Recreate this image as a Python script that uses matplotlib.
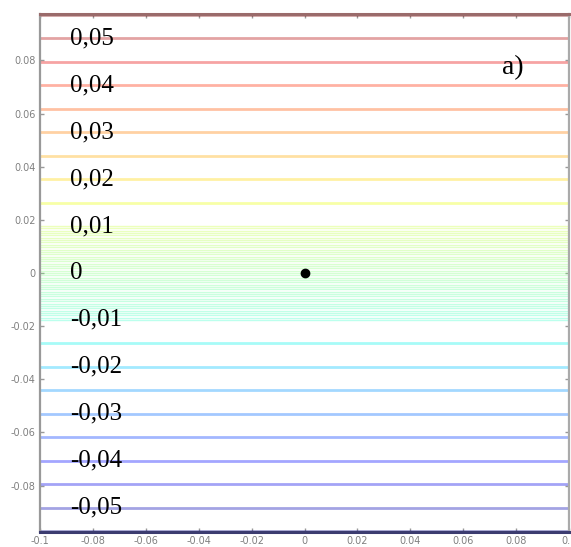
import numpy as np
import matplotlib
matplotlib.use("Agg")
import matplotlib.pyplot as plt

# contour values of the potential (coarse outside, fine band around zero)
coarse_levels = [-0.055, -0.05, -0.045, -0.04, -0.035, -0.03, -0.025, -0.02, -0.015,
                 0.015, 0.02, 0.025, 0.03, 0.035, 0.04, 0.045, 0.05, 0.055]
fine_levels = np.arange(-0.01, 0.01001, 0.0005)
field_slope = 0.566  # potential per unit y

label_values = [0.05, 0.04, 0.03, 0.02, 0.01, 0.0, -0.01, -0.02, -0.03, -0.04, -0.05]
label_texts = ["0,05", "0,04", "0,03", "0,02", "0,01", "0",
               "-0,01", "-0,02", "-0,03", "-0,04", "-0,05"]

x_ticks = [-0.1, -0.08, -0.06, -0.04, -0.02, 0, 0.02, 0.04, 0.06, 0.08, 0.1]
x_tick_labels = ["-0.1", "-0.08", "-0.06", "-0.04", "-0.02", "0",
                 "0.02", "0.04", "0.06", "0.08", "0.1"]
y_ticks = [-0.08, -0.06, -0.04, -0.02, 0, 0.02, 0.04, 0.06, 0.08]
y_tick_labels = ["-0.08", "-0.06", "-0.04", "-0.02", "0", "0.02", "0.04", "0.06", "0.08"]

xs = np.linspace(-0.1, 0.1, 201)
ys = np.linspace(-0.1, 0.1, 801)
X, Y = np.meshgrid(xs, ys)
Z = field_slope * Y

fig = plt.figure(figsize=(5.71, 5.47), dpi=100)
ax = fig.add_axes([40 / 571, 15 / 547, 529 / 571, 518 / 547])

ax.contour(X, Y, Z, levels=coarse_levels, cmap="jet", vmin=-0.055, vmax=0.055,
           linewidths=2.0, alpha=0.36)
ax.contour(X, Y, Z, levels=fine_levels, cmap="jet", vmin=-0.055, vmax=0.055,
           linewidths=1.0, alpha=0.32)

ax.plot(0, 0, "o", color="black", ms=6)

for v, t in zip(label_values, label_texts):
    ax.text(-0.0887, v / field_slope, t, ha="left", va="center",
            fontsize=18, family="Liberation Serif")

ax.text(0.0788, 0.0772, "a)", ha="center", va="center", fontsize=20,
        family="Liberation Serif")

ax.set_xlim(-0.1, 0.1)
ax.set_ylim(-0.0975, 0.0975)
ax.set_xticks(x_ticks)
ax.set_xticklabels(x_tick_labels)
ax.set_yticks(y_ticks)
ax.set_yticklabels(y_tick_labels)
ax.tick_params(direction="in", length=3, width=1, color="#999999",
               labelsize=7, labelcolor="#808080", top=True, right=True, pad=3)

ax.spines["left"].set_color("#999999")
ax.spines["left"].set_linewidth(1.6)
ax.spines["right"].set_color("#aaaaaa")
ax.spines["right"].set_linewidth(1.6)
ax.spines["top"].set_color("#9a6b6b")
ax.spines["top"].set_linewidth(2.2)
ax.spines["bottom"].set_color("#3c3c70")
ax.spines["bottom"].set_linewidth(2.2)

fig.savefig("out.png", dpi=100)
